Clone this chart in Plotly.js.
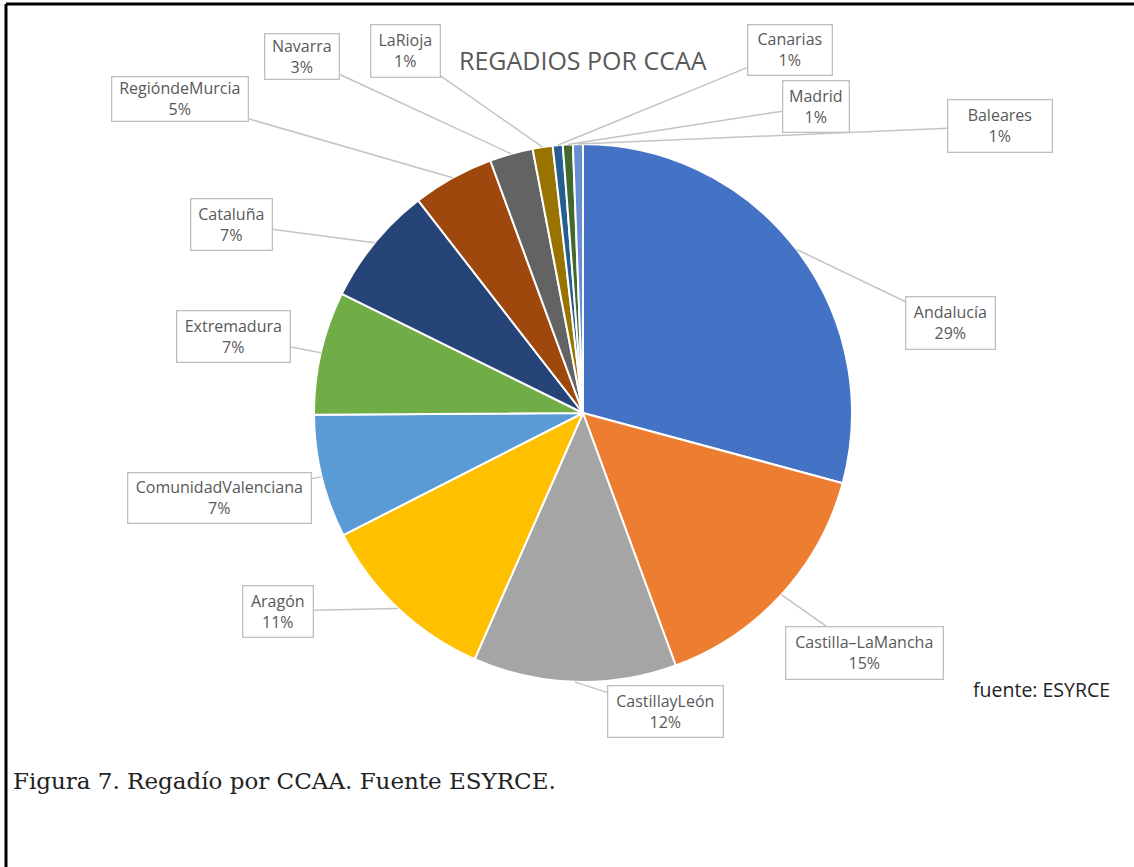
<!DOCTYPE html>
<html>
<head>
<meta charset="utf-8">
<script src="https://cdn.plot.ly/plotly-3.0.1.min.js"></script>
<style>
  html, body { margin: 0; padding: 0; background: #fff; }
  #chart { width: 1134px; height: 867px; }
</style>
</head>
<body>
<div id="chart"></div>
<script>
// ---- data ----
const regions = ["Andalucía", "Castilla–LaMancha", "CastillayLeón", "Aragón",
  "ComunidadValenciana", "Extremadura", "Cataluña", "RegióndeMurcia",
  "Navarra", "LaRioja", "Canarias", "Madrid", "Baleares"];
const shares = [29.2, 15.2, 12.2, 10.9, 7.4, 7.4, 7.2, 4.9, 2.6, 1.2, 0.6, 0.6, 0.6];
const sliceColors = ["#4472C4", "#ED7D31", "#A5A5A5", "#FFC000", "#5B9BD5", "#70AD47",
  "#264478", "#9E480E", "#636363", "#997300", "#255E91", "#43682B", "#698ED0"];

// ---- layout (pixels) ----
const W = 1134, H = 867;
const CX = 583, CY = 413, R = 269;
// label box centres and sizes, same order as regions
const boxes = [
  [950, 323, 90, 53], [864, 653, 158, 53], [665, 711, 116, 52], [278, 611, 71, 52],
  [219, 498, 184, 51], [233, 336, 114, 52], [231, 224, 82, 52], [180, 99, 137, 45],
  [302, 57, 75, 46], [405, 51, 70, 53], [790, 50, 85, 51], [816, 106, 67, 52],
  [1000, 126, 105, 53]
];

const total = shares.reduce((a, b) => a + b, 0);
const annotations = [];
let cum = 0;
shares.forEach((v, i) => {
  const mid = (cum + v / 2) / total * 2 * Math.PI;
  cum += v;
  const tx = CX + R * Math.sin(mid);
  const ty = CY - R * Math.cos(mid);
  const b = boxes[i];
  annotations.push({
    xref: 'paper', yref: 'paper',
    x: tx / W, y: 1 - ty / H,
    ax: b[0] - tx, ay: b[1] - ty,
    text: regions[i] + '<br>' + Math.round(v / total * 100) + '%',
    showarrow: true, arrowhead: 0, arrowwidth: 1.5, arrowcolor: '#c4c4c4',
    standoff: 0, startstandoff: 0,
    width: b[2] - 6, height: b[3] - 6, borderpad: 2,
    bordercolor: '#bfbfbf', borderwidth: 1.3, bgcolor: '#ffffff',
    font: { family: 'Open Sans, sans-serif', size: 16, color: '#595959' },
    align: 'center', valign: 'middle'
  });
});

annotations.push({
  xref: 'paper', yref: 'paper', x: CX / W, y: 1 - 60 / H,
  xanchor: 'center', yanchor: 'middle',
  text: 'REGADIOS POR CCAA', showarrow: false,
  font: { family: 'Open Sans, sans-serif', size: 25, color: '#595959' }
});
annotations.push({
  xref: 'paper', yref: 'paper', x: 1041 / W, y: 1 - 689 / H,
  xanchor: 'center', yanchor: 'middle',
  text: 'fuente: ESYRCE', showarrow: false,
  font: { family: 'Open Sans, sans-serif', size: 19.5, color: '#222222' }
});
annotations.push({
  xref: 'paper', yref: 'paper', x: 11 / W, y: 1 - 781 / H,
  xanchor: 'left', yanchor: 'middle',
  text: 'Figura 7. Regadío por CCAA. Fuente ESYRCE.', showarrow: false,
  font: { family: 'DejaVu Serif, serif', size: 23, color: '#222222' }
});

const trace = {
  type: 'pie',
  labels: regions,
  values: shares,
  sort: false,
  direction: 'clockwise',
  rotation: 0,
  textinfo: 'none',
  hoverinfo: 'label+percent',
  marker: { colors: sliceColors, line: { color: '#ffffff', width: 2 } },
  domain: {
    x: [(CX - R) / W, (CX + R) / W],
    y: [(H - CY - R) / H, (H - CY + R) / H]
  },
  showlegend: false
};

const layout = {
  width: W, height: H,
  margin: { l: 0, r: 0, t: 0, b: 0 },
  paper_bgcolor: '#ffffff',
  showlegend: false,
  annotations: annotations,
  shapes: [
    { type: 'line', xref: 'paper', yref: 'paper', x0: 6 / W, x1: 1, y0: 1 - 4 / H, y1: 1 - 4 / H,
      line: { color: '#000000', width: 3 } },
    { type: 'line', xref: 'paper', yref: 'paper', x0: 6 / W, x1: 6 / W, y0: 0, y1: 1 - 4 / H,
      line: { color: '#000000', width: 3 } }
  ]
};

Plotly.newPlot('chart', [trace], layout, { displayModeBar: false, staticPlot: true });
</script>
</body>
</html>
